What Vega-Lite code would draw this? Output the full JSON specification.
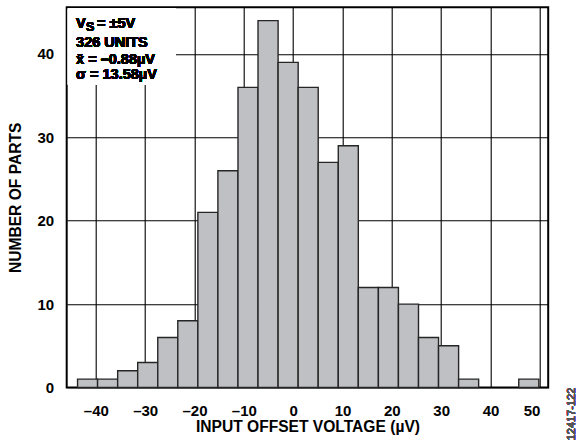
{
  "$schema": "https://vega.github.io/schema/vega-lite/v6.json",
  "width": 481.5,
  "height": 380.2,
  "autosize": "none",
  "padding": {"left": 66.7, "top": 7.3, "right": 31.8, "bottom": 56.5},
  "background": "#ffffff",
  "config": {
    "view": {"stroke": "#000000", "strokeWidth": 2},
    "font": "Liberation Sans",
    "axis": {
      "labelFont": "Liberation Sans",
      "labelFontWeight": "bold",
      "labelFontSize": 15,
      "labelColor": "#000000",
      "titleFont": "Liberation Sans",
      "titleFontWeight": "bold",
      "titleFontSize": 15.6,
      "titleColor": "#000000",
      "ticks": false,
      "tickSize": 0,
      "domain": false,
      "gridColor": "#000000",
      "gridWidth": 1.1,
      "gridOpacity": 1
    }
  },
  "data": {
    "values": [
      {"lo": -43.70, "hi": -39.64, "n": 1},
      {"lo": -39.64, "hi": -35.57, "n": 1},
      {"lo": -35.57, "hi": -31.51, "n": 2},
      {"lo": -31.51, "hi": -27.44, "n": 3},
      {"lo": -27.44, "hi": -23.38, "n": 6},
      {"lo": -23.38, "hi": -19.31, "n": 8},
      {"lo": -19.31, "hi": -15.25, "n": 21},
      {"lo": -15.25, "hi": -11.18, "n": 26},
      {"lo": -11.18, "hi": -7.12, "n": 36},
      {"lo": -7.12, "hi": -3.05, "n": 44},
      {"lo": -3.05, "hi": 1.02, "n": 39},
      {"lo": 1.02, "hi": 5.08, "n": 36},
      {"lo": 5.08, "hi": 9.15, "n": 27},
      {"lo": 9.15, "hi": 13.21, "n": 29},
      {"lo": 13.21, "hi": 17.28, "n": 12},
      {"lo": 17.28, "hi": 21.34, "n": 12},
      {"lo": 21.34, "hi": 25.41, "n": 10},
      {"lo": 25.41, "hi": 29.47, "n": 6},
      {"lo": 29.47, "hi": 33.54, "n": 5},
      {"lo": 33.54, "hi": 37.60, "n": 1},
      {"lo": 45.73, "hi": 49.80, "n": 1}
    ]
  },
  "layer": [
    {
      "mark": {"type": "rect", "fill": "#bfc0c4", "stroke": "#262626", "strokeWidth": 1.4},
      "encoding": {
        "x": {
          "field": "lo", "type": "quantitative",
          "scale": {"domain": [-45.9, 51.7], "nice": false, "zero": false},
          "axis": {
            "values": [-40, -35, -30, -25, -20, -15, -10, -5, 0, 5, 10, 15, 20, 25, 30, 35, 40, 45, 50],
            "labelExpr": "datum.value % 10 === 0 ? (datum.value < 0 ? '–' + abs(datum.value) : '' + datum.value) : ''",
            "labelAlign": {"condition": {"test": "datum.value === 50", "value": "right"}, "value": "center"},
            "labelPadding": 16,
            "title": "INPUT OFFSET VOLTAGE (µV)",
            "titlePadding": 1
          }
        },
        "x2": {"field": "hi"},
        "y": {
          "field": "n", "type": "quantitative",
          "scale": {"domain": [0, 45.6], "nice": false},
          "axis": {
            "values": [0, 10, 20, 30, 40],
            "labelPadding": 13,
            "title": "NUMBER OF PARTS",
            "titlePadding": 14
          }
        },
        "y2": {"datum": 0}
      }
    },
    {
      "mark": {"type": "rect", "fill": "#ffffff", "stroke": null},
      "encoding": {
        "x": {"datum": -45.65},
        "x2": {"datum": -23.9},
        "y": {"datum": 36.3},
        "y2": {"datum": 45.45}
      }
    },
    {
      "mark": {"type": "text", "align": "left", "baseline": "alphabetic", "fontSize": 14.5, "fontWeight": "bold", "font": "Liberation Sans", "color": "#000000"},
      "encoding": {"x": {"datum": -44.0}, "y": {"datum": 43.06}, "text": {"value": "V"}}
    },
    {
      "mark": {"type": "text", "align": "left", "baseline": "alphabetic", "fontSize": 12.5, "fontWeight": "bold", "font": "Liberation Sans", "color": "#000000"},
      "encoding": {"x": {"datum": -41.99}, "y": {"datum": 42.76}, "text": {"value": "S"}}
    },
    {
      "mark": {"type": "text", "align": "left", "baseline": "alphabetic", "fontSize": 14.5, "fontWeight": "bold", "font": "Liberation Sans", "color": "#000000"},
      "encoding": {"x": {"datum": -39.76}, "y": {"datum": 43.06}, "text": {"value": "= ±5V"}}
    },
    {
      "mark": {"type": "text", "align": "left", "baseline": "alphabetic", "fontSize": 14.5, "fontWeight": "bold", "font": "Liberation Sans", "color": "#000000"},
      "encoding": {"x": {"datum": -44.0}, "y": {"datum": 40.87}, "text": {"value": "326 UNITS"}}
    },
    {
      "mark": {"type": "text", "align": "left", "baseline": "alphabetic", "fontSize": 14.5, "fontWeight": "bold", "font": "Liberation Sans", "color": "#000000"},
      "encoding": {"x": {"datum": -44.0}, "y": {"datum": 38.79}, "text": {"value": "x̄ = –0.88µV"}}
    },
    {
      "mark": {"type": "text", "align": "left", "baseline": "alphabetic", "fontSize": 14.5, "fontWeight": "bold", "font": "Liberation Sans", "color": "#000000"},
      "encoding": {"x": {"datum": -44.0}, "y": {"datum": 36.96}, "text": {"value": "σ = 13.58µV"}}
    },
    {
      "mark": {"type": "text", "align": "center", "baseline": "middle", "angle": 270, "fontSize": 11, "font": "Liberation Sans", "color": "#555555"},
      "encoding": {"x": {"datum": 56.43}, "y": {"datum": -3.18}, "text": {"value": "12417-122"}}
    }
  ]
}
